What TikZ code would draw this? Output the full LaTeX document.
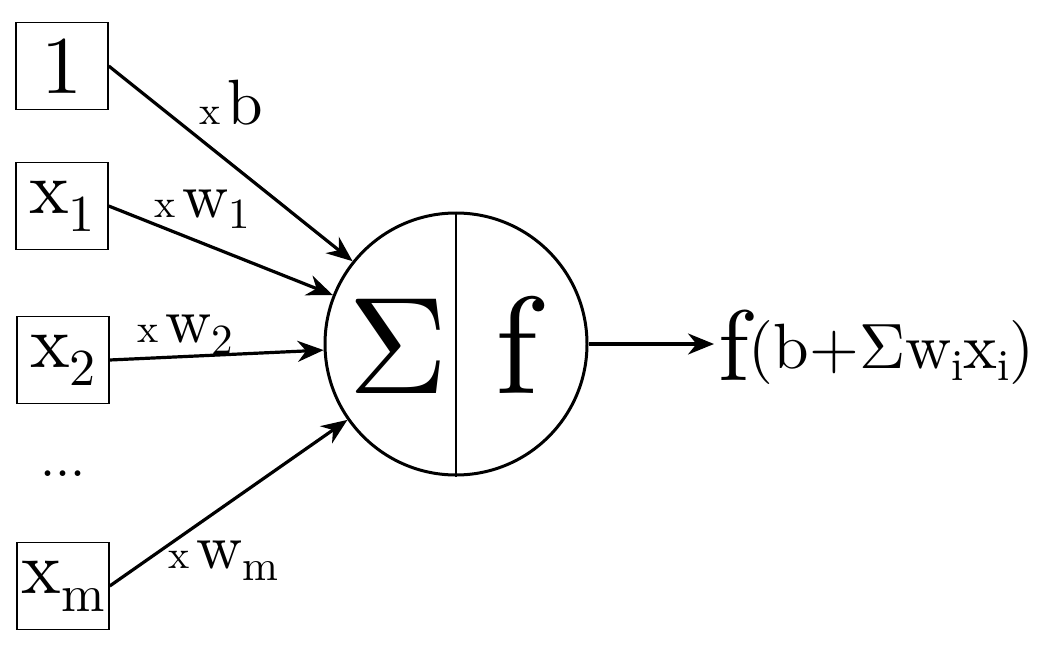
\documentclass[tikz,border=0pt]{standalone}
\usepackage{fontspec}
\setmainfont{lmroman10-regular}[Extension=.otf]
\usetikzlibrary{arrows.meta}
\tikzset{
  inbox/.style={draw, line width=1.5pt, minimum width=92pt, minimum height=87pt,
    inner sep=0pt, font=\fontsize{75}{75}\selectfont},
  conn/.style={line width=3.2pt, -{Stealth[length=26pt,width=21pt]}},
  wlab/.style={anchor=base west, inner sep=0pt},
  big/.style={anchor=base, inner sep=0pt, font=\fontsize{138}{138}\selectfont},
}
\newcommand\wtimes[2]{{\fontsize{40}{40}\selectfont x}\hspace{7pt}{\fontsize{64}{64}\selectfont #1}\raisebox{-12pt}{\fontsize{43}{43}\selectfont #2}}
\newcommand\xin[1]{x\raisebox{-18pt}{\fontsize{52}{52}\selectfont #1}}
\newcommand\isub{\raisebox{-12pt}{\fontsize{44}{44}\selectfont i}}

\begin{document}
\begin{tikzpicture}[x=1pt,y=-1pt]
\path[use as bounding box] (0,0) rectangle (1050,650);
% inputs
\node[inbox, font=\fontsize{82}{82}\selectfont] (one) at (62,66) {1};
\node[inbox] (x1) at (62,206) {\xin{1}};
\node[inbox] (x2) at (63,360) {\xin{2}};
\node[anchor=base, inner sep=0pt, font=\fontsize{54}{54}\selectfont] (dots) at (63,476) {...};
\node[inbox] (xm) at (63,586) {\xin{m}};
% neuron
\node[circle, draw, line width=3pt, minimum size=262pt, inner sep=0pt] (neuron) at (456,344) {};
\draw[line width=2.5pt] (neuron.north) -- (neuron.south);
\node[big] (sig) at (398,393) {Σ};
\node[big] (fn) at (517,393) {f};
% weights
\node[wlab] (lb) at (199,125) {\wtimes{b}{}};
\node[wlab] (lw1) at (154,217) {\wtimes{w}{1}};
\node[wlab] (lw2) at (137,342) {\wtimes{w}{2}};
\node[wlab] (lwm) at (168,568) {\wtimes{w}{m}};
\draw[conn] (one.east) -- (neuron);
\draw[conn] (x1.east) -- (neuron);
\draw[conn] (x2.east) -- (neuron);
\draw[conn] (xm.east) -- (neuron);
% output
\node[anchor=base west, inner sep=0pt] (out) at (718,380)
  {{\fontsize{100}{100}\selectfont f}\raisebox{12pt}{\fontsize{64}{64}\selectfont (b+Σw\isub x\isub)}};
\draw[conn, shorten >=4pt] (neuron.east) -- (neuron.east -| out.west);
\end{tikzpicture}
\end{document}
